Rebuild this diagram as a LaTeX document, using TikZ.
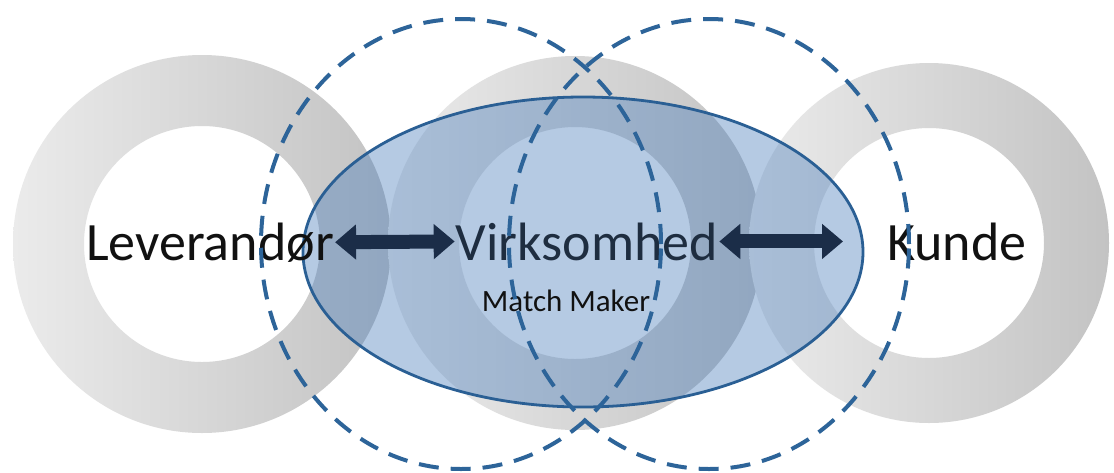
\documentclass[tikz,border=0pt]{standalone}
\usepackage{fontspec}
\setmainfont{Carlito}
\usetikzlibrary{arrows.meta}
\definecolor{ringL}{HTML}{EBEBEB}
\definecolor{ringR}{HTML}{C3C3C3}
\definecolor{ellfill}{HTML}{4F81BD}
\definecolor{ellline}{HTML}{2A5F94}
\definecolor{dashc}{HTML}{2D6499}
\definecolor{arrowc}{HTML}{1B2D48}
\definecolor{txtc}{HTML}{111111}
\definecolor{virkc}{HTML}{1E2D40}
\begin{document}
\begin{tikzpicture}[x=1pt,y=-1pt,
  ring/.style={even odd rule, left color=ringL, right color=ringR, draw=none},
  bigtext/.style={font=\fontsize{54}{60}\selectfont, inner sep=1pt, text=txtc},
  smalltext/.style={font=\fontsize{31}{36}\selectfont, inner sep=1pt, text=txtc},
  dasharc/.style={draw=dashc, line width=4pt, dash pattern=on 20pt off 12pt},
  dblarrow/.style={draw=arrowc, line width=14pt,
     {Triangle[width=34pt,length=21pt]}-{Triangle[width=34pt,length=21pt]}}]
\useasboundingbox (0,0) rectangle (1114,472);
\fill[white] (0,0) rectangle (1114,472);
% gray rings
\shade[ring] (202,244) circle[radius=189pt] (202,244) circle[radius=118pt];
\shade[ring] (575,243) circle[radius=187pt] (575,243) circle[radius=116pt];
\shade[ring] (929,243) circle[radius=180pt] (929,243) circle[radius=115pt];
% blue ellipse
\path[fill=ellfill, fill opacity=0.42] (583,252) ellipse[x radius=280pt, y radius=155pt];
\draw[ellline, line width=2.8pt] (583,252) ellipse[x radius=280pt, y radius=155pt];
% texts
\node[bigtext, anchor=base] (lev) at (210,260) {Leverandør};
\node[bigtext, anchor=base, text=virkc] (virk) at (587,260) {Virksomhed};
\node[bigtext, anchor=base west] (kunde) at (886,260) {Kunde};
\node[smalltext, anchor=base] (mm) at (566,311) {Match Maker};
\coordinate (ka) at (843,243);
% arrows
\draw[dblarrow] (lev.east) -- (virk.west);
\draw[dblarrow] (virk.east) -- (ka |- virk.east);
% dashed ellipses
\draw[dasharc] (461,244) ellipse[x radius=200pt, y radius=225pt];
\draw[dasharc] (709,244) ellipse[x radius=200pt, y radius=225pt];
\end{tikzpicture}
\end{document}
